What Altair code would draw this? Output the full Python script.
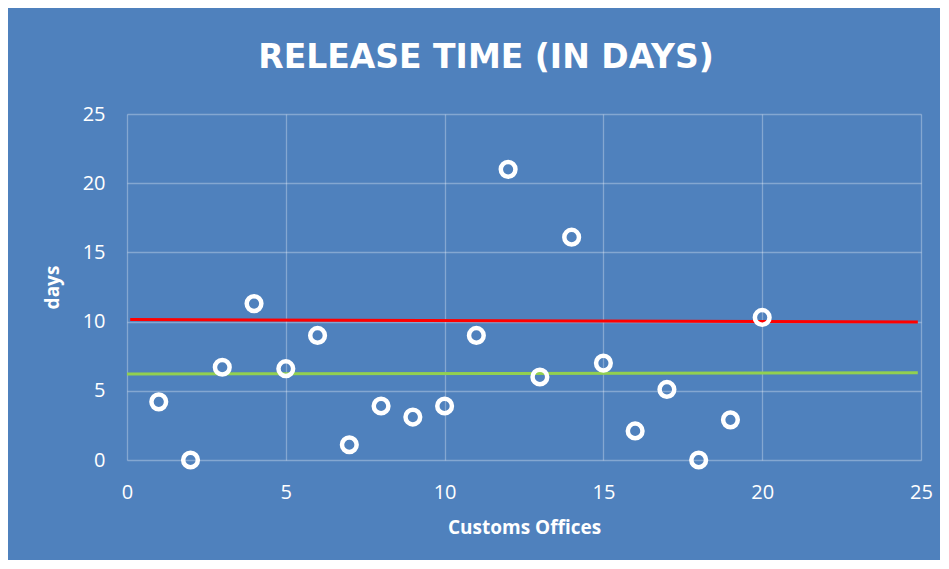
import altair as alt
import pandas as pd

# Data
offices = list(range(1, 21))
days = [4.2, 0.0, 6.7, 11.3, 6.6, 9.0, 1.1, 3.9, 3.1, 3.9,
        9.0, 21.0, 6.0, 16.1, 7.0, 2.1, 5.1, 0.0, 2.9, 10.3]

red_x = [0.1, 24.9]
red_y = [10.15, 9.97]
green_x = [0.0, 24.9]
green_y = [6.21, 6.31]

BG = "#4F81BD"
FONT = "Open Sans"

pts = pd.DataFrame({"office": offices, "days": days})
lines = pd.DataFrame({
    "office": red_x + green_x,
    "days": red_y + green_y,
    "series": ["red", "red", "green", "green"],
})

xscale = alt.Scale(domain=[0, 25], nice=False, zero=False)
yscale = alt.Scale(domain=[0, 25], nice=False, zero=False)

xaxis = alt.Axis(title="Customs Offices", values=[0, 5, 10, 15, 20, 25],
                 titlePadding=16, labelFlush=False)
yaxis = alt.Axis(title="days", values=[0, 5, 10, 15, 20, 25],
                 titlePadding=20, labelFlush=False)

line_layer = alt.Chart(lines).mark_line(strokeWidth=3).encode(
    x=alt.X("office:Q", scale=xscale, axis=xaxis),
    y=alt.Y("days:Q", scale=yscale, axis=yaxis),
    color=alt.Color("series:N",
                    scale=alt.Scale(domain=["red", "green"], range=["#FF0000", "#92D050"]),
                    legend=None),
    detail="series:N",
)

point_layer = alt.Chart(pts).mark_point(
    shape="circle", filled=False, stroke="white", strokeWidth=4.5, size=215, opacity=1
).encode(
    x=alt.X("office:Q", scale=xscale),
    y=alt.Y("days:Q", scale=yscale),
)

chart = alt.layer(line_layer, point_layer).properties(
    width=794,
    height=346,
    background=BG,
    padding={"left": 119, "top": 106, "right": 19, "bottom": 100},
    autosize=alt.AutoSizeParams(type="none"),
    title=alt.TitleParams(
        "RELEASE TIME (IN DAYS)",
        color="white", font="DejaVu Sans", fontSize=33, fontWeight="bold",
        anchor="middle", offset=29, dx=-38,
    ),
).configure_view(stroke=None).configure_axis(
    labelColor="white", labelFont=FONT, labelFontSize=20,
    titleColor="white", titleFont=FONT, titleFontSize=19, titleFontWeight="bold",
    grid=True, gridColor="white", gridOpacity=0.3, gridWidth=1.3,
    domain=False, ticks=False, tickSize=0,
).configure_axisX(labelPadding=22).configure_axisY(labelPadding=22)

chart.save("out.html", embed_options={"renderer": "svg", "actions": False})
